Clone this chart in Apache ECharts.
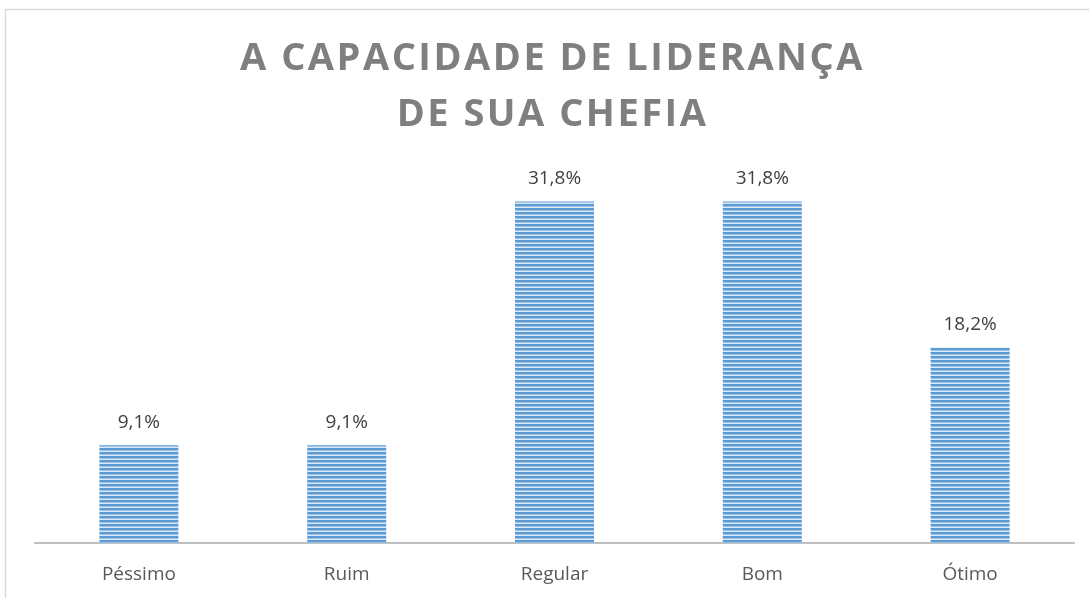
<!DOCTYPE html>
<html>
<head>
<meta charset="utf-8">
<script src="https://cdn.jsdelivr.net/npm/echarts@6/dist/echarts.min.js"></script>
<style>
  html, body { margin: 0; padding: 0; background: #fff; }
  #wrap { position: relative; width: 1089px; height: 598px; }
  #chart { width: 1089px; height: 598px; }
  /* title sits over the chart so it can keep the wide letter spacing */
  #title {
    position: absolute; left: 0; top: 27px; width: 1089px;
    text-align: center; padding-left: 16px; box-sizing: border-box;
    font-family: 'Open Sans', sans-serif; font-weight: bold;
    font-size: 38px; line-height: 56px; letter-spacing: 2.5px;
    color: #7f7f7f; white-space: pre-line; pointer-events: none;
  }
</style>
</head>
<body>
<div id="wrap">
  <div id="chart"></div>
  <div id="title"></div>
</div>
<script>
const categories = ['Péssimo', 'Ruim', 'Regular', 'Bom', 'Ótimo'];
const values = [9.1, 9.1, 31.8, 31.8, 18.2];
const titleText = 'A CAPACIDADE DE LIDERANÇA\nDE SUA CHEFIA';

document.getElementById('title').textContent = titleText;

// striped fill like the original's horizontal line pattern
const makeStripes = () => {
    const c = document.createElement('canvas');
    c.width = 4;
    c.height = 4;
    const ctx = c.getContext('2d');
    ctx.fillStyle = '#5b9bd5';
    ctx.fillRect(0, 0, 4, 4);
    ctx.fillStyle = '#9fc3e7';
    ctx.fillRect(0, 2, 4, 1);
    ctx.fillStyle = '#dbe8f6';
    ctx.fillRect(0, 3, 4, 1);
    return c;
};

const chartDom = document.getElementById('chart');
const myChart = echarts.init(chartDom, null, { renderer: 'canvas' });

const option = {
    animation: false,
    backgroundColor: '#ffffff',
    graphic: [{
        type: 'polyline',
        shape: { points: [[5.5, 598], [5.5, 9.5], [1089, 9.5]] },
        style: { stroke: '#d9d9d9', lineWidth: 1.5, fill: null },
        silent: true
    }],
    grid: {
        left: 35,
        right: 15,
        top: 167,
        bottom: 55
    },
    xAxis: {
        type: 'category',
        data: categories,
        axisLine: { lineStyle: { color: '#bfbfbf', width: 2 } },
        axisTick: { show: false },
        axisLabel: {
            color: '#595959',
            fontSize: 19,
            fontFamily: 'Open Sans',
            margin: 22
        }
    },
    yAxis: {
        type: 'value',
        min: 0,
        max: 35,
        show: false,
        splitLine: { show: false }
    },
    series: [{
        type: 'bar',
        data: values,
        barWidth: 79,
        itemStyle: {
            color: { image: makeStripes(), repeat: 'repeat' }
        },
        label: {
            show: true,
            position: 'top',
            distance: 13,
            color: '#404040',
            fontSize: 19,
            fontFamily: 'Open Sans',
            formatter: (p) => p.value.toFixed(1).replace('.', ',') + '%'
        }
    }]
};

myChart.setOption(option);
</script>
</body>
</html>
